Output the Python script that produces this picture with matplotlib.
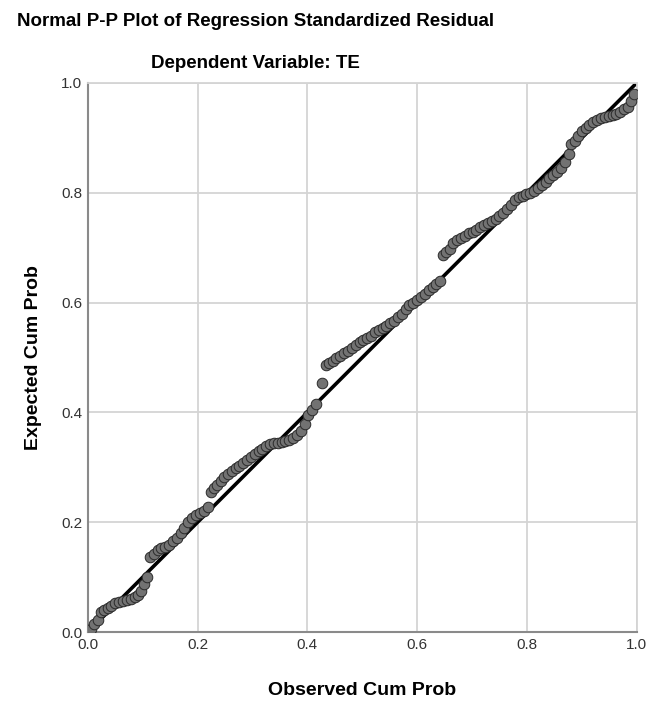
import matplotlib
matplotlib.use("Agg")
import matplotlib.pyplot as plt

# Observed / expected cumulative probabilities
obs_cum = [
    0.005, 0.012, 0.018, 0.024, 0.030, 0.036, 0.043, 0.050, 0.057, 0.064,
    0.071, 0.078, 0.085, 0.091, 0.097, 0.103, 0.108,
    0.113, 0.120, 0.127, 0.134, 0.141, 0.148, 0.155, 0.162, 0.169, 0.176,
    0.183, 0.190, 0.197, 0.204, 0.211, 0.218,
    0.224, 0.230, 0.236, 0.242, 0.248, 0.255, 0.262, 0.269, 0.276, 0.283,
    0.290, 0.297, 0.304, 0.311, 0.318, 0.325, 0.332,
    0.339, 0.346, 0.353, 0.360, 0.367, 0.374, 0.381, 0.388, 0.395, 0.402,
    0.409, 0.416,
    0.426,
    0.433, 0.439, 0.446, 0.453, 0.460, 0.467, 0.474, 0.481, 0.488, 0.495,
    0.502, 0.509, 0.516, 0.523, 0.530, 0.537, 0.544, 0.551, 0.558, 0.565,
    0.572, 0.579, 0.586, 0.593, 0.600, 0.607, 0.614, 0.621, 0.628, 0.635,
    0.641,
    0.647, 0.653, 0.659, 0.666, 0.673, 0.680, 0.687, 0.694, 0.701, 0.708,
    0.715, 0.722, 0.729, 0.736, 0.743, 0.750, 0.757, 0.764, 0.771, 0.778,
    0.785,
    0.792, 0.799, 0.806, 0.813, 0.820, 0.827, 0.834, 0.841, 0.848, 0.855,
    0.862, 0.869, 0.876,
    0.881, 0.887, 0.893, 0.900, 0.907, 0.914, 0.921, 0.928, 0.935, 0.942,
    0.949, 0.956, 0.963, 0.970, 0.977, 0.984, 0.990, 0.995,
]
exp_cum = [
    0.006, 0.014, 0.022, 0.036, 0.040, 0.044, 0.047, 0.052, 0.054, 0.056,
    0.058, 0.060, 0.063, 0.068, 0.075, 0.088, 0.100,
    0.137, 0.142, 0.150, 0.153, 0.155, 0.158, 0.165, 0.172, 0.180, 0.190,
    0.200, 0.208, 0.213, 0.217, 0.221, 0.228,
    0.255, 0.262, 0.268, 0.275, 0.282, 0.288, 0.294, 0.298, 0.303, 0.308,
    0.313, 0.318, 0.324, 0.330, 0.334, 0.338, 0.342,
    0.344, 0.345, 0.346, 0.348, 0.350, 0.353, 0.358, 0.366, 0.378, 0.395,
    0.405, 0.415,
    0.453,
    0.486, 0.490, 0.494, 0.499, 0.503, 0.508, 0.512, 0.518, 0.523, 0.528,
    0.532, 0.536, 0.540, 0.546, 0.550, 0.553, 0.558, 0.563, 0.567, 0.574,
    0.580, 0.588, 0.595, 0.600, 0.605, 0.610, 0.616, 0.623, 0.628, 0.634,
    0.640,
    0.687, 0.692, 0.697, 0.709, 0.714, 0.718, 0.722, 0.726, 0.729, 0.733,
    0.737, 0.742, 0.745, 0.748, 0.752, 0.758, 0.764, 0.770, 0.778, 0.786,
    0.792,
    0.795, 0.797, 0.800, 0.804, 0.809, 0.814, 0.820, 0.826, 0.832, 0.838,
    0.846, 0.856, 0.870,
    0.888, 0.895, 0.904, 0.912, 0.918, 0.924, 0.928, 0.932, 0.936, 0.938,
    0.940, 0.942, 0.944, 0.948, 0.952, 0.956, 0.968, 0.980,
]
ref_line = [0.0, 1.0]
ticks = [0.0, 0.2, 0.4, 0.6, 0.8, 1.0]
tick_labels = ["0.0", "0.2", "0.4", "0.6", "0.8", "1.0"]

plt.rcParams["font.family"] = ["Liberation Sans", "DejaVu Sans"]

fig = plt.figure(figsize=(6.51, 7.09), dpi=100)
ax = fig.add_axes([0.135, 0.1086, 0.843, 0.7744])

ax.plot(ref_line, ref_line, color="black", linewidth=2.6, zorder=2)
ax.scatter(obs_cum, exp_cum, s=58, facecolor="#727272", edgecolor="#2a2a2a",
           linewidth=0.7, zorder=3)

ax.set_xlim(0, 1)
ax.set_ylim(0, 1)
ax.set_xticks(ticks)
ax.set_yticks(ticks)
ax.set_xticklabels(tick_labels)
ax.set_yticklabels(tick_labels)
ax.tick_params(length=0, labelsize=11, colors="#333333", pad=4)
ax.grid(True, color="#d4d4d4", linewidth=1.3, zorder=0)
ax.set_axisbelow(True)
for side in ["top", "right"]:
    ax.spines[side].set_color("#d4d4d4")
    ax.spines[side].set_linewidth(1.3)
for side in ["left", "bottom"]:
    ax.spines[side].set_color("#8a8a8a")
    ax.spines[side].set_linewidth(1.5)

ax.set_xlabel("Observed Cum Prob", fontsize=14, fontweight="bold", labelpad=22)
ax.set_ylabel("Expected Cum Prob", fontsize=14, fontweight="bold", labelpad=14)

fig.text(0.393, 0.969, "Normal P-P Plot of Regression Standardized Residual",
         ha="center", va="center", fontsize=13.5, fontweight="bold")
fig.text(0.393, 0.911, "Dependent Variable: TE",
         ha="center", va="center", fontsize=13.5, fontweight="bold")

fig.savefig("out.png", dpi=100, facecolor="white")
